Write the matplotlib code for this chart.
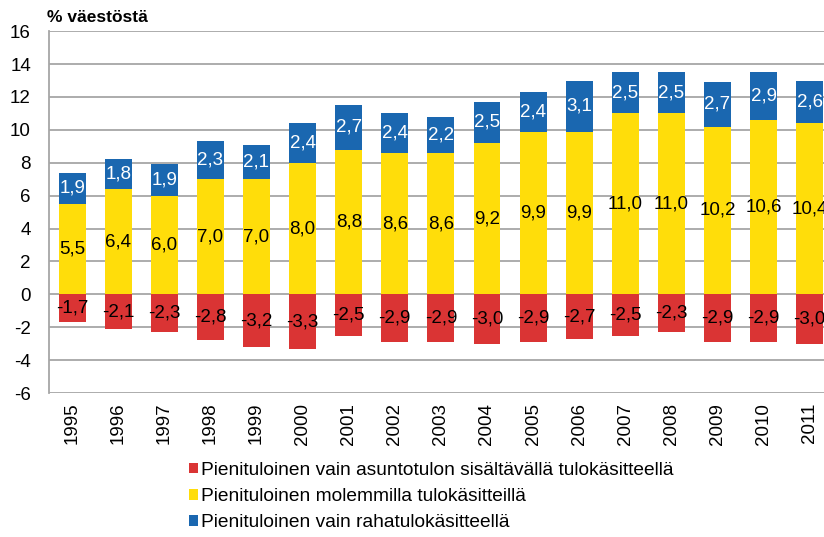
import matplotlib.pyplot as plt
import numpy as np

plt.rcParams['font.family'] = ['Liberation Sans', 'DejaVu Sans']
plt.rcParams['axes.unicode_minus'] = False

years = [str(y) for y in range(1995, 2012)]
molemmat = [5.5, 6.4, 6.0, 7.0, 7.0, 8.0, 8.8, 8.6, 8.6, 9.2, 9.9, 9.9, 11.0, 11.0, 10.2, 10.6, 10.4]
raha = [1.9, 1.8, 1.9, 2.3, 2.1, 2.4, 2.7, 2.4, 2.2, 2.5, 2.4, 3.1, 2.5, 2.5, 2.7, 2.9, 2.6]
asunto = [-1.7, -2.1, -2.3, -2.8, -3.2, -3.3, -2.5, -2.9, -2.9, -3.0, -2.9, -2.7, -2.5, -2.3, -2.9, -2.9, -3.0]

red = '#DA3434'
yellow = '#FFDD0A'
blue = '#1A67B0'

fig = plt.figure(figsize=(8.24, 5.37), dpi=100)
ax = fig.add_axes([0.0595, 0.268, 0.9405, 0.674])

x = np.arange(len(years))
w = 0.585
b_red = ax.bar(x, asunto, w, color=red, label='Pienituloinen vain asuntotulon sisältävällä tulokäsitteellä', zorder=3)
b_yel = ax.bar(x, molemmat, w, color=yellow, label='Pienituloinen molemmilla tulokäsitteillä', zorder=3)
b_blu = ax.bar(x, raha, w, bottom=molemmat, color=blue, label='Pienituloinen vain rahatulokäsitteellä', zorder=3)

fs = 13.5
fmt = lambda v: f'{v:.1f}'.replace('.', ',')
for i in x:
    ax.text(i, asunto[i] / 2, fmt(asunto[i]), ha='center', va='center', fontsize=fs, color='black', zorder=4)
    ax.text(i, molemmat[i] / 2, fmt(molemmat[i]), ha='center', va='center', fontsize=fs, color='black', zorder=4)
    ax.text(i, molemmat[i] + raha[i] / 2, fmt(raha[i]), ha='center', va='center', fontsize=fs, color='white', zorder=4)

ax.set_ylim(-6, 16)
ax.set_yticks(range(-6, 17, 2))
ax.set_xlim(-0.5, 16.31)
ax.set_xticks(x)
ax.set_xticklabels(years, rotation=90, fontsize=fs)
ax.tick_params(axis='y', labelsize=fs, length=0, pad=13)
ax.tick_params(axis='x', length=0, pad=7)
ax.grid(axis='y', color='#A6A6A6', linewidth=1.3, zorder=0)
for s in ['top', 'right', 'bottom']:
    ax.spines[s].set_visible(False)
ax.spines['left'].set_color('#A6A6A6')
ax.spines['left'].set_linewidth(1.3)

fig.text(0.057, 0.968, '% väestöstä', fontsize=12.5, fontweight='bold', ha='left', va='center')

fig.legend(handles=[b_red, b_yel, b_blu], loc='upper left', bbox_to_anchor=(0.229, 0.14),
           frameon=False, fontsize=13.8, handlelength=0.5, handleheight=0.5, handletextpad=0.15,
           labelspacing=0.48, borderpad=0, borderaxespad=0)

fig.savefig('out.png', dpi=100)
